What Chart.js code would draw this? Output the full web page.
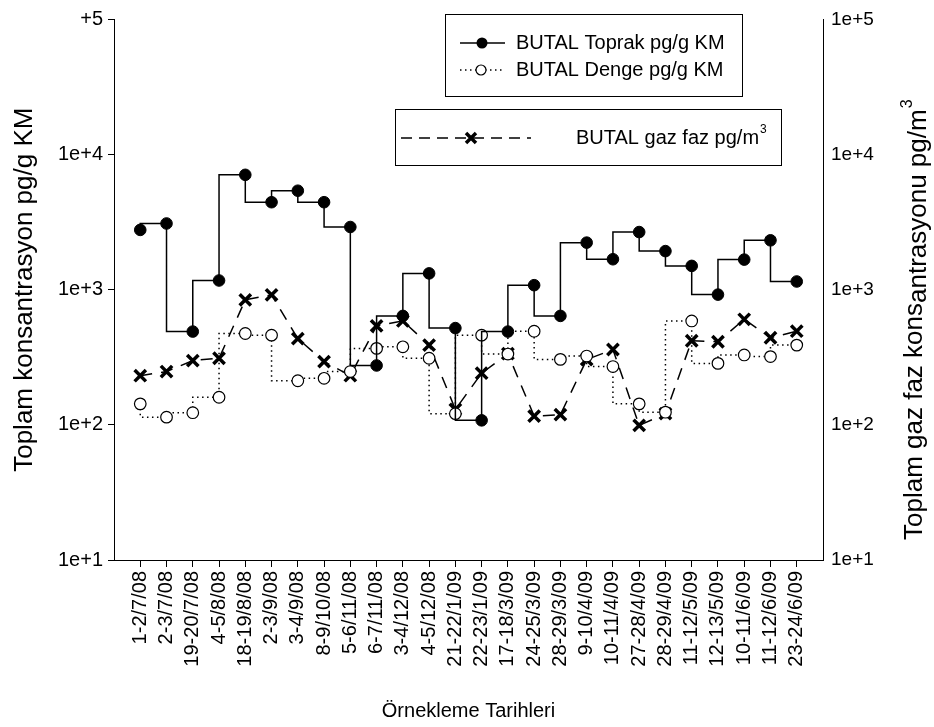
<!DOCTYPE html>
<html>
<head>
<meta charset="utf-8">
<script src="https://cdn.jsdelivr.net/npm/chart.js@4"></script>
<style>
  html, body { margin: 0; padding: 0; background: #fff; }
  #wrap { width: 934px; height: 727px; position: relative; }
</style>
</head>
<body>
<div id="wrap"><canvas id="chart"></canvas></div>
<script>
var dates = ["1-2/7/08", "2-3/7/08", "19-20/7/08", "4-5/8/08", "18-19/8/08", "2-3/9/08",
  "3-4/9/08", "8-9/10/08", "5-6/11/08", "6-7/11/08", "3-4/12/08", "4-5/12/08",
  "21-22/1/09", "22-23/1/09", "17-18/3/09", "24-25/3/09", "28-29/3/09", "9-10/4/09",
  "10-11/4/09", "27-28/4/09", "28-29/4/09", "11-12/5/09", "12-13/5/09", "10-11/6/09",
  "11-12/6/09", "23-24/6/09"];

var toprak = [2770, 3090, 490, 1170, 7080, 4440, 5400, 4440, 2910, 275, 640, 1320, 520,
  108, 490, 1080, 640, 2230, 1680, 2670, 1930, 1500, 920, 1670, 2320, 1150];
var denge = [143, 114, 123, 160, 474, 461, 212, 221, 248, 368, 378, 311, 121,
  461, 334, 493, 305, 323, 270, 143, 124, 587, 285, 329, 320, 389];
var gaz = [231, 248, 299, 311, 841, 916, 435, 294, 231, 540, 587, 389, 130,
  241, 336, 116, 119, 304, 361, 99, 121, 419, 412, 604, 441, 493];

var yTicks = [10, 100, 1000, 10000, 100000];
var leftTickLabels = ["1e+1", "1e+2", "1e+3", "1e+4", "+5"];
var rightTickLabels = ["1e+1", "1e+2", "1e+3", "1e+4", "1e+5"];

var FONT = "'Liberation Sans', Arial, sans-serif";

function points(arr) {
  return arr.map(function(v, i) { return {x: i, y: v}; });
}

// the two framed legends of the original
var boxLegend = {
  id: "boxLegend",
  afterDraw: function(chart) {
    var ctx = chart.ctx;
    var ds = chart.data.datasets;
    ctx.save();
    ctx.strokeStyle = "#000";
    ctx.fillStyle = "#000";
    ctx.lineWidth = 1;
    ctx.strokeRect(445.5, 14.5, 297, 82);
    ctx.strokeRect(395.5, 109.5, 386, 56);
    ctx.font = "20px " + FONT;
    ctx.textBaseline = "middle";

    // toprak
    ctx.lineWidth = 1.5;
    ctx.beginPath(); ctx.moveTo(460, 43); ctx.lineTo(505, 43); ctx.stroke();
    ctx.beginPath(); ctx.arc(482, 43, 5.5, 0, Math.PI * 2); ctx.fill();
    ctx.fillText(ds[0].label, 516, 43);

    // denge
    ctx.setLineDash([1.5, 3.5]);
    ctx.beginPath(); ctx.moveTo(460, 70); ctx.lineTo(505, 70); ctx.stroke();
    ctx.setLineDash([]);
    ctx.lineWidth = 1.2;
    ctx.beginPath(); ctx.arc(481, 70, 5, 0, Math.PI * 2);
    ctx.fillStyle = "#fff"; ctx.fill(); ctx.stroke();
    ctx.fillStyle = "#000";
    ctx.fillText(ds[1].label, 516, 70);

    // gaz
    ctx.lineWidth = 1.5;
    ctx.setLineDash([11, 7]);
    ctx.beginPath(); ctx.moveTo(401, 138); ctx.lineTo(531, 138); ctx.stroke();
    ctx.setLineDash([]);
    ctx.lineWidth = 3.5;
    ctx.beginPath();
    ctx.moveTo(466, 133); ctx.lineTo(476, 143);
    ctx.moveTo(476, 133); ctx.lineTo(466, 143);
    ctx.stroke();
    ctx.fillText("BUTAL gaz faz pg/m", 576, 138);
    var w = ctx.measureText("BUTAL gaz faz pg/m").width;
    ctx.font = "12px " + FONT;
    ctx.fillText("3", 576 + w + 1, 130);
    ctx.restore();
  }
};

// right axis title, with the shifted part as in the original
var rightTitle = {
  id: "rightTitle",
  afterDraw: function(chart) {
    var ctx = chart.ctx;
    ctx.save();
    ctx.translate(922, 540);
    ctx.rotate(-Math.PI / 2);
    ctx.fillStyle = "#000";
    ctx.textBaseline = "alphabetic";
    var a = "Toplam gaz faz kons", b = "antrasyonu pg/m";
    ctx.font = "26px " + FONT;
    var wa = ctx.measureText(a).width, wb = ctx.measureText(b).width;
    ctx.fillText(a, 0, 0);
    ctx.fillText(b, wa, 4);
    ctx.font = "16px " + FONT;
    ctx.fillText("3", wa + wb + 1, -10);
    ctx.restore();
  }
};

function init() {
  var ctx = document.getElementById("chart").getContext("2d");
  new Chart(ctx, {
    type: "line",
    data: {
      datasets: [{
        label: "BUTAL Toprak pg/g KM",
        data: points(toprak),
        stepped: "after",
        borderColor: "#000",
        borderWidth: 1.5,
        pointStyle: "circle",
        pointRadius: 5.8,
        pointBackgroundColor: "#000",
        pointBorderColor: "#000",
        pointBorderWidth: 1,
        yAxisID: "y"
      }, {
        label: "BUTAL Denge pg/g KM",
        data: points(denge),
        stepped: "after",
        borderColor: "#000",
        borderWidth: 1.5,
        borderDash: [1.5, 3.5],
        pointStyle: "circle",
        pointRadius: 5.8,
        pointBackgroundColor: "#fff",
        pointBorderColor: "#000",
        pointBorderWidth: 1.2,
        yAxisID: "y"
      }, {
        label: "BUTAL gaz faz pg/m3",
        data: points(gaz),
        borderColor: "#000",
        borderWidth: 1.5,
        borderDash: [12, 9],
        pointStyle: "crossRot",
        pointRadius: 8,
        pointBorderColor: "#000",
        pointBorderWidth: 3.5,
        yAxisID: "y2"
      }]
    },
    options: {
      responsive: true,
      maintainAspectRatio: false,
      animation: false,
      layout: { padding: { top: 15, left: 0, right: 0, bottom: 0 } },
      plugins: {
        legend: { display: false },
        tooltip: { enabled: false }
      },
      scales: {
        x: {
          type: "linear",
          min: -1,
          max: 26,
          afterBuildTicks: function(s) {
            s.ticks = dates.map(function(d, i) { return {value: i}; });
          },
          afterFit: function(s) { s.height = 167; },
          ticks: {
            autoSkip: false,
            minRotation: 90,
            maxRotation: 90,
            padding: 4,
            color: "#000",
            font: { size: 20, family: FONT },
            callback: function(v) { return dates[v]; }
          },
          grid: { drawOnChartArea: false, tickLength: 7, color: "#000" },
          border: { color: "#000", width: 1 },
          title: {
            display: true,
            text: "Örnekleme Tarihleri",
            color: "#000",
            font: { size: 20, family: FONT },
            padding: { top: 0, bottom: 4 }
          }
        },
        y: {
          type: "logarithmic",
          position: "left",
          min: 10,
          max: 100000,
          afterBuildTicks: function(s) {
            s.ticks = yTicks.map(function(v) { return {value: v}; });
          },
          afterFit: function(s) { s.width = 114; },
          ticks: {
            padding: 5,
            color: "#000",
            font: { size: 20, family: FONT },
            callback: function(v, i) { return leftTickLabels[i]; }
          },
          grid: { drawOnChartArea: false, tickLength: 6, color: "#000" },
          border: { color: "#000", width: 1 },
          title: {
            display: true,
            text: "Toplam konsantrasyon pg/g KM",
            color: "#000",
            font: { size: 26, family: FONT },
            padding: { top: 9, bottom: 0 }
          }
        },
        y2: {
          type: "logarithmic",
          position: "right",
          min: 10,
          max: 100000,
          afterBuildTicks: function(s) {
            s.ticks = yTicks.map(function(v) { return {value: v}; });
          },
          afterFit: function(s) { s.width = 111; },
          ticks: {
            padding: 8,
            color: "#000",
            font: { size: 19, family: FONT },
            callback: function(v, i) { return rightTickLabels[i]; }
          },
          grid: { display: false, drawTicks: false },
          border: { display: true, color: "#000", width: 1 }
        }
      }
    },
    plugins: [boxLegend, rightTitle]
  });
}

window.onload = init;
</script>
</body>
</html>
